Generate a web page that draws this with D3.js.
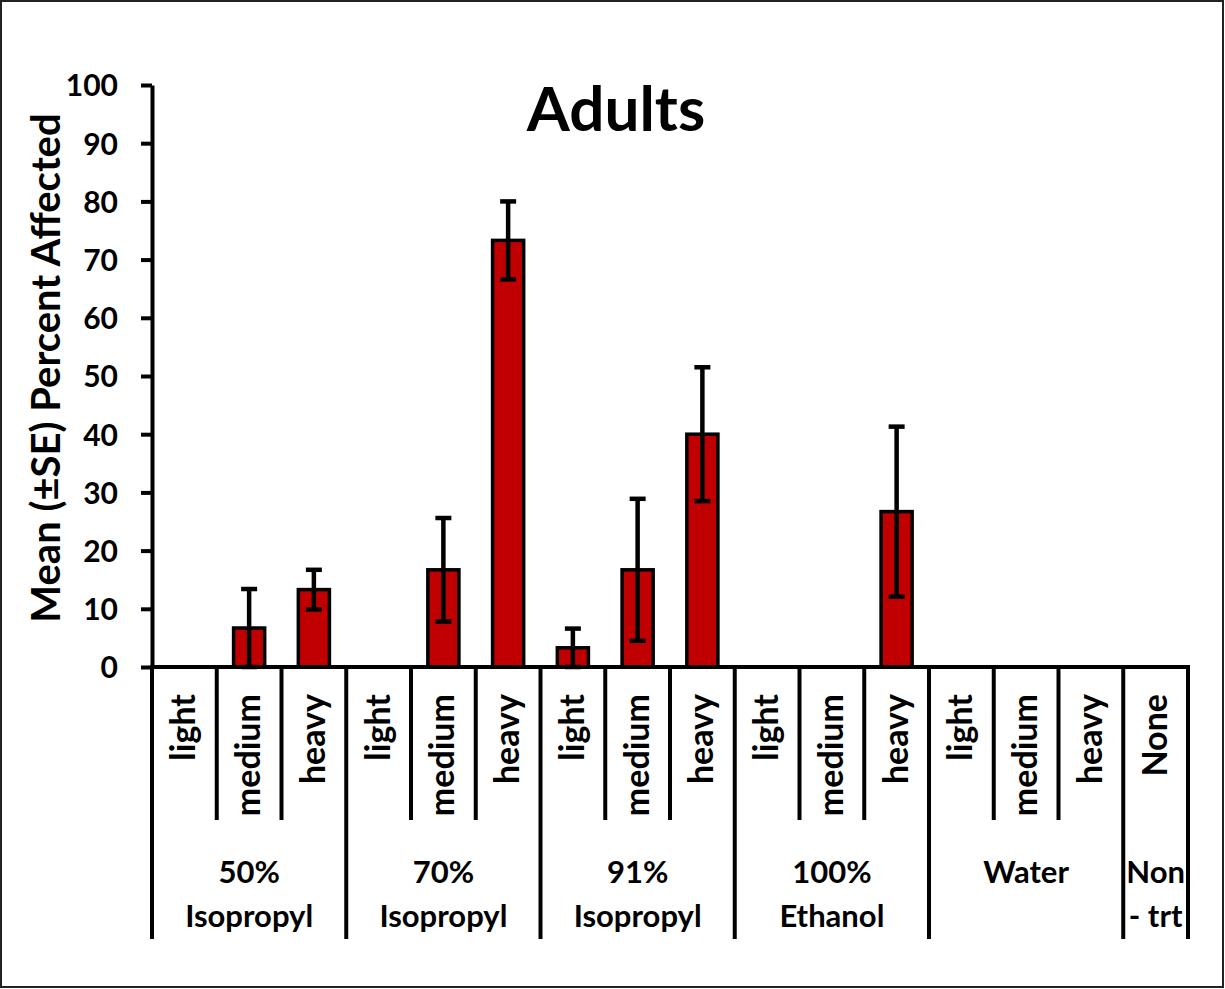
<!DOCTYPE html>
<html lang="en">
<head>
<meta charset="utf-8" />
<script src="https://cdn.jsdelivr.net/npm/d3@7"></script>
<style>
  body { margin: 0; background: #fff; }
  svg text { font-family: Lato, 'Open Sans', sans-serif; font-weight: bold; fill: #000; }
</style>
</head>
<body>
<div id="chart"></div>
<script>
// data
var levels = ["light", "medium", "heavy", "light", "medium", "heavy", "light", "medium", "heavy",
              "light", "medium", "heavy", "light", "medium", "heavy", "None"];
var groupIndex = [0, 0, 0, 1, 1, 1, 2, 2, 2, 3, 3, 3, 4, 4, 4, 5];
var groupNames = [["50%", "Isopropyl"], ["70%", "Isopropyl"], ["91%", "Isopropyl"],
                  ["100%", "Ethanol"], ["Water"], ["Non", "- trt"]];
var means = [0, 6.7, 13.3, 0, 16.7, 73.3, 3.3, 16.7, 40, 0, 0, 26.7, 0, 0, 0, 0];
var errors = [0, 6.7, 3.4, 0, 8.9, 6.7, 3.3, 12.2, 11.5, 0, 0, 14.6, 0, 0, 0, 0];
var yTicks = [0, 10, 20, 30, 40, 50, 60, 70, 80, 90, 100];

var width = 1225, height = 989;
var plotLeft = 152, plotRight = 1188, plotTop = 85, plotBase = 667;

var svg = d3.select('#chart').append('svg')
  .attr('width', width)
  .attr('height', height);

// outer frame
svg.append('rect')
  .attr('x', 1).attr('y', 1)
  .attr('width', width - 3).attr('height', height - 3)
  .attr('fill', 'none').attr('stroke', '#222').attr('stroke-width', 2);

var idx = d3.range(levels.length);
var x = d3.scaleBand().domain(idx).range([plotLeft, plotRight]).padding(0);
var y = d3.scaleLinear().domain([0, 100]).range([plotBase, plotTop]);
var barW = x.bandwidth() * 0.48;

// y axis
var yAxis = svg.append('g')
  .attr('transform', 'translate(' + plotLeft + ',0)')
  .call(d3.axisLeft(y).tickValues(yTicks).tickSize(11).tickSizeOuter(0).tickPadding(23));
yAxis.select('.domain').attr('stroke', '#000').attr('stroke-width', 4);
yAxis.selectAll('.tick line').attr('stroke', '#000').attr('stroke-width', 4);
yAxis.selectAll('.tick text').style('font-size', '30px').attr('dy', '0.36em');

svg.append('text')
  .attr('transform', 'translate(60,368) rotate(-90)')
  .attr('text-anchor', 'middle')
  .style('font-size', '40px')
  .text('Mean (±SE) Percent Affected');

svg.append('text')
  .attr('x', 616).attr('y', 131)
  .attr('text-anchor', 'middle')
  .style('font-size', '62px')
  .text('Adults');

// bars
svg.selectAll('.bar')
  .data(idx.filter(function(i) { return means[i] > 0; }))
  .enter().append('rect')
  .attr('class', 'bar')
  .attr('x', function(i) { return x(i) + (x.bandwidth() - barW) / 2; })
  .attr('y', function(i) { return y(means[i]); })
  .attr('width', barW)
  .attr('height', function(i) { return y(0) - y(means[i]); })
  .attr('fill', '#C00000')
  .attr('stroke', '#000')
  .attr('stroke-width', 3.5);

// error bars
var err = svg.selectAll('.err')
  .data(idx.filter(function(i) { return errors[i] > 0; }))
  .enter().append('g')
  .attr('class', 'err')
  .attr('transform', function(i) { return 'translate(' + (x(i) + x.bandwidth() / 2) + ',0)'; });
err.append('line')
  .attr('y1', function(i) { return y(means[i] + errors[i]); })
  .attr('y2', function(i) { return y(Math.max(0, means[i] - errors[i])); })
  .attr('stroke', '#000').attr('stroke-width', 4.5);
err.append('line')
  .attr('x1', -8).attr('x2', 8)
  .attr('y1', function(i) { return y(means[i] + errors[i]); })
  .attr('y2', function(i) { return y(means[i] + errors[i]); })
  .attr('stroke', '#000').attr('stroke-width', 4.5);
err.append('line')
  .attr('x1', -8).attr('x2', 8)
  .attr('y1', function(i) { return y(Math.max(0, means[i] - errors[i])); })
  .attr('y2', function(i) { return y(Math.max(0, means[i] - errors[i])); })
  .attr('stroke', '#000').attr('stroke-width', 4.5);

// x axis line
svg.append('line')
  .attr('x1', plotLeft - 2).attr('x2', plotRight + 2)
  .attr('y1', plotBase).attr('y2', plotBase)
  .attr('stroke', '#000').attr('stroke-width', 4);

// dividers below the axis
var bounds = d3.range(levels.length + 1);
svg.selectAll('.divider')
  .data(bounds)
  .enter().append('line')
  .attr('class', 'divider')
  .attr('x1', function(b) { return b < levels.length ? x(b) : plotRight; })
  .attr('x2', function(b) { return b < levels.length ? x(b) : plotRight; })
  .attr('y1', plotBase)
  .attr('y2', function(b) {
    var isGroup = b === 0 || b === levels.length || groupIndex[b] !== groupIndex[b - 1];
    return isGroup ? 939 : 820;
  })
  .attr('stroke', '#000').attr('stroke-width', 4);

// level labels
svg.selectAll('.level')
  .data(idx)
  .enter().append('text')
  .attr('class', 'level')
  .attr('transform', function(i) {
    return 'translate(' + (x(i) + x.bandwidth() / 2 + 11) + ',694) rotate(-90)';
  })
  .attr('text-anchor', 'end')
  .style('font-size', '34px')
  .text(function(i) { return levels[i]; });

// group labels
var groups = d3.range(groupNames.length).map(function(g) {
  var members = idx.filter(function(i) { return groupIndex[i] === g; });
  var x0 = x(members[0]);
  var x1 = x(members[members.length - 1]) + x.bandwidth();
  return { name: groupNames[g], cx: (x0 + x1) / 2 };
});
var gl = svg.selectAll('.group')
  .data(groups)
  .enter().append('text')
  .attr('class', 'group')
  .attr('text-anchor', 'middle')
  .style('font-size', '31px');
gl.selectAll('tspan')
  .data(function(d) { return d.name.map(function(n) { return { n: n, cx: d.cx, single: d.name.length === 1 }; }); })
  .enter().append('tspan')
  .attr('x', function(d) { return d.cx; })
  .attr('y', function(d, k) { return d.single ? 883 : 883 + k * 44; })
  .text(function(d) { return d.n; });
</script>
</body>
</html>
